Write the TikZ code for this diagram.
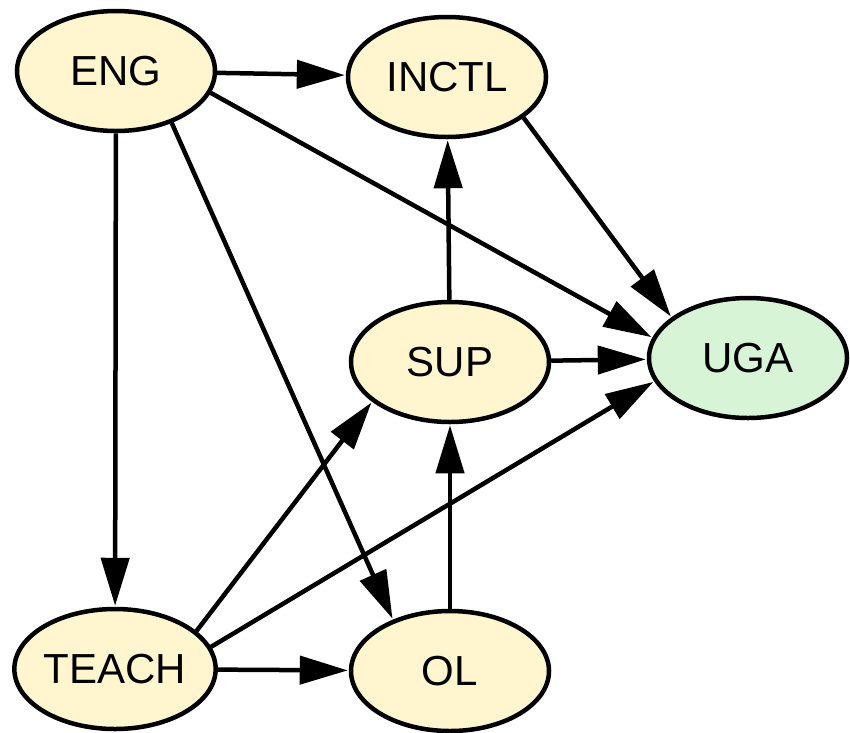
\documentclass[tikz,border=0pt]{standalone}
\usepackage{fontspec}
\setmainfont{Liberation Sans}
\usetikzlibrary{shapes.geometric,arrows.meta}
\definecolor{nodeyellow}{HTML}{FFF5CE}
\definecolor{nodegreen}{HTML}{D7F4D7}
\begin{document}
\begin{tikzpicture}[x=1pt,y=-1pt,
  vnode/.style={ellipse,draw=black,line width=4.5pt,fill=nodeyellow,
    minimum width=198pt,minimum height=120pt,inner sep=0pt,
    font=\fontsize{42}{44}\selectfont},
  outnode/.style={vnode,fill=nodegreen},
  edge/.style={line width=4.5pt,-{Triangle[length=48pt,width=28pt]},shorten >=1pt}]
\useasboundingbox (0,0) rectangle (850,732);
\node[vnode] (ENG) at (116,71) {ENG};
\node[vnode] (INCTL) at (447,77) {INCTL};
\node[vnode] (SUP) at (450,362) {SUP};
\node[outnode] (UGA) at (748,358) {UGA};
\node[vnode] (TEACH) at (115,669) {TEACH};
\node[vnode] (OL) at (450,671) {OL};
\draw[edge] (ENG) -- (INCTL);
\draw[edge] (ENG.-13) -- (UGA.168);
\draw[edge] (ENG) -- (TEACH);
\draw[edge] (ENG.-43) -- (OL.138);
\draw[edge] (INCTL.-28) -- (UGA.152);
\draw[edge] (SUP) -- (INCTL);
\draw[edge] (SUP) -- (UGA);
\draw[edge] (TEACH.25) -- (SUP.207);
\draw[edge] (TEACH.13) -- (UGA.194);
\draw[edge] (TEACH) -- (OL);
\draw[edge] (OL) -- (SUP);
\end{tikzpicture}
\end{document}
